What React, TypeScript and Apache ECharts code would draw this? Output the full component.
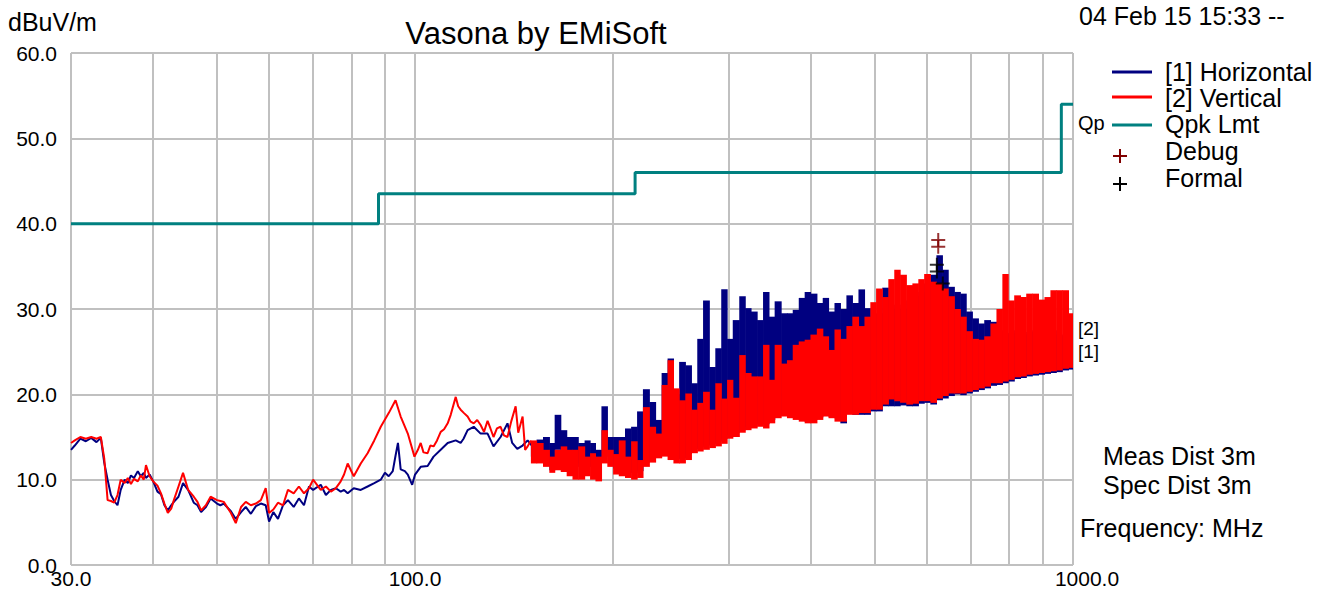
import React, { useEffect, useRef } from "react";
import * as echarts from "echarts";

// ---------- data ----------
const xLabelValues = [30, 100, 1000];
const gridFreqs = [30, 40, 50, 60, 70, 80, 90, 100, 200, 300, 400, 500, 600, 700, 800, 900, 1000];

// Qpk limit (step: value holds until next frequency)
const limitFreq = [30, 88, 216, 960, 1000];
const limitLevel = [40, 43.5, 46, 54, 54];

// [2] Vertical, low band (line part)
const vLowFreq = [30.0, 30.4, 31.0, 31.6, 32.2, 32.8, 33.3, 33.7, 34.1, 34.5, 34.9, 35.3, 35.7, 36.2, 36.6, 37.0, 37.4, 37.9, 38.3, 38.7, 39.0, 39.5, 40.0, 40.6, 41.1, 41.6, 42.1, 42.6, 43.0, 43.7, 44.4, 45.2, 46.1, 46.7, 47.3, 48.1, 48.9, 50.0, 50.6, 51.2, 52.5, 53.4, 54.4, 55.3, 56.3, 57.3, 58.3, 59.3, 60.0, 60.9, 61.9, 63.0, 64.1, 65.4, 66.6, 67.8, 69.0, 70.0, 71.9, 73.2, 74.5, 75.8, 77.1, 78.0, 79.0, 80.7, 82.7, 84.7, 86.7, 88.7, 91.2, 93.4, 95.1, 97.5, 99.8, 101, 102, 103, 104.5, 105.5, 106.7, 108, 109.4, 110.7, 112.1, 113.3, 115.3, 116.3, 117.3, 118.7, 120.2, 121.5, 122.8, 124.3, 125.8, 127.3, 128.9, 130.2, 131.6, 133.2, 134.9, 136.5, 138.2, 140, 142.2, 143.5, 145.7, 147, 148.3, 150];
const vLowLevel = [14.3, 14.6, 15.0, 14.8, 15.0, 14.8, 15.0, 12.5, 7.6, 7.5, 7.3, 8.2, 10.0, 9.6, 10.2, 9.5, 10.1, 9.8, 10.5, 10.0, 11.7, 10.4, 9.8, 9.3, 8.4, 7.2, 6.1, 6.6, 7.6, 9.2, 10.8, 8.8, 8.0, 7.4, 6.4, 7.0, 8.0, 7.6, 7.5, 7.4, 6.1, 4.9, 6.8, 7.4, 7.0, 7.2, 7.6, 9.0, 6.1, 6.5, 7.3, 7.0, 8.8, 8.4, 9.2, 8.4, 9.0, 10.0, 8.8, 9.2, 8.6, 9.0, 9.8, 10.6, 11.9, 10.4, 11.9, 13.1, 14.6, 16.2, 17.8, 19.3, 17.4, 15.4, 12.7, 13.5, 14.3, 13.2, 13.1, 14.0, 13.9, 14.6, 15.6, 15.9, 16.6, 17.6, 19.7, 18.6, 18.2, 17.8, 17.4, 16.8, 16.6, 17.0, 16.4, 15.6, 16.9, 16.0, 15.0, 16.0, 16.2, 15.2, 15.0, 16.8, 18.6, 15.5, 17.4, 13.5, 13.9, 14.6];

// [1] Horizontal, low band (line part)
const hLowFreq = [30.0, 30.4, 31.0, 31.6, 32.2, 32.8, 33.3, 33.7, 34.1, 34.5, 34.9, 35.3, 35.7, 36.2, 36.6, 37.0, 37.4, 37.9, 38.3, 38.7, 39.0, 39.5, 40.0, 40.6, 41.1, 41.6, 42.1, 42.6, 43.0, 43.7, 44.4, 45.2, 46.1, 46.7, 47.3, 48.1, 48.9, 50.0, 50.6, 51.2, 52.5, 53.4, 54.4, 55.3, 56.3, 57.3, 58.3, 59.3, 60.0, 60.9, 61.9, 63.0, 64.1, 65.4, 66.6, 67.8, 69.0, 70.0, 71.9, 73.2, 74.5, 75.8, 77.1, 78.0, 79.0, 80.7, 82.7, 84.7, 86.7, 88.7, 90.0, 91.2, 92.5, 93.4, 94.2, 95.1, 96.5, 97.5, 99.0, 100, 102, 104.5, 106.7, 109.4, 112.1, 115.3, 117.3, 118.5, 120.2, 122.8, 125.8, 128.9, 131.6, 134.9, 138.2, 140.5, 143, 145.7, 148.3, 150.5];
const hLowLevel = [13.5, 14.0, 14.8, 14.5, 14.9, 14.4, 14.9, 12.0, 10.0, 8.2, 7.5, 7.0, 8.8, 10.0, 9.6, 10.5, 10.2, 11.0, 10.4, 10.8, 10.2, 10.6, 9.8, 8.6, 8.3, 7.0, 6.4, 7.0, 7.4, 8.0, 9.6, 8.8, 7.3, 7.0, 6.2, 6.8, 7.8, 7.2, 7.0, 7.2, 6.3, 5.4, 6.2, 6.8, 6.0, 6.9, 7.2, 7.0, 5.1, 6.2, 5.4, 7.0, 7.6, 6.8, 7.8, 7.0, 9.2, 8.8, 9.4, 8.2, 8.8, 9.0, 8.6, 8.8, 8.4, 9.0, 8.8, 9.2, 9.6, 10.0, 10.8, 10.4, 11.0, 12.8, 14.3, 11.2, 11.0, 10.6, 9.4, 10.6, 11.5, 11.6, 12.7, 13.5, 14.3, 14.6, 14.3, 14.8, 15.8, 16.2, 15.4, 15.4, 13.9, 15.0, 16.6, 14.3, 13.6, 14.0, 14.6, 14.0];

// dense sweep region: min / max envelope per frequency bin
const bandFreq = [150, 153, 156.5, 160, 163, 166.5, 170, 173.5, 177, 181, 184.5, 188, 192, 196, 200, 204, 208.5, 213, 217.5, 222, 227, 232, 237, 242, 247, 252, 257.5, 263, 268.5, 274, 280, 286, 292, 298, 304, 311, 317.5, 324, 331, 338, 345, 352, 360, 367.5, 375, 383, 391, 399, 408, 416.5, 425, 434, 443, 452.5, 462, 472, 482, 492, 502, 513, 524, 535, 546, 558, 570, 582, 594, 607, 620, 633, 646, 660, 674, 688, 703, 718, 733, 749, 765, 781, 797, 814, 832, 849, 867, 886, 905, 924, 943, 963, 984, 1000];
const vBandHi = [14.6, 14.3, 13.5, 12.7, 13.5, 13.9, 13.5, 13.5, 13.9, 12.7, 13.1, 12.7, 15.8, 13.5, 13.0, 14.6, 12.7, 14.5, 12.3, 18.5, 16.2, 15.4, 21.1, 24.0, 20.7, 19.3, 20.1, 18.2, 19.0, 20.3, 18.2, 21.3, 19.5, 21.7, 19.6, 24.6, 22.5, 22.1, 22.1, 25.8, 21.7, 25.8, 23.6, 24.0, 25.8, 26.2, 26.4, 27.0, 27.7, 26.8, 25.2, 27.6, 26.5, 28.0, 29.1, 28.0, 29.1, 30.8, 32.4, 31.4, 33.5, 34.6, 34.0, 32.8, 33.0, 33.5, 34.1, 33.2, 33.0, 32.4, 31.5, 30.0, 29.1, 27.4, 26.5, 26.4, 26.8, 28.3, 30.0, 34.1, 31.0, 31.6, 31.4, 31.8, 31.8, 31.1, 31.4, 32.2, 32.2, 32.2, 29.5, 28.5];
const vBandLo = [11.9, 11.9, 11.5, 10.8, 11.1, 10.9, 10.4, 10.0, 10.0, 10.4, 10.0, 9.8, 11.9, 11.5, 10.6, 10.4, 10.2, 10.0, 10.2, 11.5, 12.0, 12.5, 12.7, 12.3, 11.9, 11.9, 12.3, 13.1, 13.3, 13.5, 13.7, 13.9, 14.2, 14.8, 15.0, 15.5, 15.8, 16.0, 16.2, 16.0, 16.6, 17.2, 17.4, 17.2, 17.0, 16.8, 16.6, 16.6, 17.0, 17.4, 17.2, 16.8, 16.8, 17.6, 17.6, 17.8, 17.8, 18.2, 18.2, 18.8, 19.4, 19.2, 19.0, 18.8, 18.9, 19.2, 19.2, 19.0, 19.5, 19.8, 20.1, 20.1, 20.1, 20.3, 20.5, 20.7, 20.9, 21.3, 21.3, 21.5, 21.7, 22.0, 22.1, 22.3, 22.4, 22.5, 22.6, 22.7, 22.8, 23.0, 23.1, 23.3];
const hBandHi = [14.3, 14.7, 15.0, 14.3, 17.6, 15.8, 15.0, 15.0, 14.3, 14.6, 14.3, 13.5, 18.6, 15.0, 15.0, 15.0, 16.0, 16.2, 18.0, 20.6, 19.1, 17.0, 22.5, 24.2, 20.0, 23.8, 23.4, 21.3, 26.5, 31.0, 23.2, 25.4, 32.3, 26.5, 28.7, 31.5, 30.1, 29.7, 28.7, 32.0, 29.1, 30.9, 29.5, 29.5, 29.9, 31.3, 32.0, 31.8, 30.7, 31.3, 29.7, 30.7, 30.0, 31.6, 30.7, 32.3, 30.1, 29.1, 29.5, 32.5, 30.0, 30.5, 30.0, 31.0, 31.5, 32.0, 33.0, 34.0, 36.3, 34.6, 32.6, 32.0, 31.8, 29.7, 28.9, 28.3, 28.7, 28.5, 27.5, 27.0, 27.2, 27.5, 27.0, 27.3, 27.5, 27.0, 27.2, 27.5, 27.0, 26.8, 26.5, 26.0];
const hBandLo = [12.7, 12.7, 11.9, 11.1, 13.5, 13.1, 12.7, 11.9, 11.5, 11.9, 11.5, 11.9, 13.5, 12.7, 11.3, 11.0, 11.2, 10.8, 11.0, 12.0, 12.6, 13.0, 13.0, 12.8, 12.4, 12.5, 13.0, 13.6, 13.8, 14.0, 14.2, 14.5, 14.8, 15.2, 15.5, 15.8, 16.2, 16.5, 16.6, 16.5, 17.0, 17.5, 17.6, 17.5, 17.3, 17.0, 16.8, 17.0, 17.3, 17.5, 17.4, 17.2, 16.6, 18.0, 17.6, 17.6, 17.6, 18.0, 18.0, 18.6, 18.6, 18.6, 18.7, 18.6, 18.6, 18.9, 19.0, 18.8, 19.3, 19.5, 19.8, 20.0, 19.9, 20.1, 20.3, 20.5, 20.7, 21.0, 21.1, 21.3, 21.5, 21.8, 21.9, 22.1, 22.2, 22.3, 22.4, 22.5, 22.6, 22.8, 22.9, 23.0];

const debugFreq = [624, 624];
const debugLevel = [38.1, 37.3];
const formalFreq = [621, 621, 634];
const formalLevel = [35.2, 34.4, 33.0];

// ---------- styling ----------
const FONT = "'Liberation Sans', Arial, Helvetica, sans-serif";
const NAVY = "#000080";
const RED = "#ff0000";
const TEAL = "#008080";
const GRID = "#c0c0c0";
const DEBUG = "#800000";
const PLUS = "path://M6,0h2v6h6v2h-6v6h-2v-6h-6v-2h6z";

function zip(a: number[], b: number[]) {
  return a.map((v, i) => [v, b[i]]);
}

function bandData(freq: number[], lo: number[], hi: number[]) {
  return freq.map((f, i) => [f, lo[i], hi[i], freq[Math.min(i + 1, freq.length - 1)]]);
}

function bandRender(color: string) {
  return (_params: any, api: any) => {
    const f = api.value(0);
    const lo = api.value(1);
    const hi = api.value(2);
    const fn = api.value(3);
    const top = api.coord([f, hi]);
    const bot = api.coord([f, lo]);
    const nx = api.coord([fn, lo])[0];
    const w = Math.max(nx - top[0], 2);
    return {
      type: "rect",
      shape: { x: top[0], y: top[1], width: w + 0.6, height: Math.max(bot[1] - top[1], 2) },
      style: { fill: color },
    };
  };
}

function txt(text: string, x: number, y: number, size: number, align = "left") {
  return {
    type: "text",
    x,
    y,
    silent: true,
    style: { text, fontSize: size, fontFamily: FONT, fill: "#000", align, verticalAlign: "middle" },
  };
}

function hline(x1: number, x2: number, y: number, color: string, w: number) {
  return { type: "line", silent: true, shape: { x1, y1: y, x2, y2: y }, style: { stroke: color, lineWidth: w } };
}

function plusMark(cx: number, cy: number, color: string) {
  return [
    { type: "line", silent: true, shape: { x1: cx - 7, y1: cy, x2: cx + 7, y2: cy }, style: { stroke: color, lineWidth: 2 } },
    { type: "line", silent: true, shape: { x1: cx, y1: cy - 7, x2: cx, y2: cy + 7 }, style: { stroke: color, lineWidth: 2 } },
  ];
}

export default function App() {
  const ref = useRef<HTMLDivElement>(null);

  useEffect(() => {
    if (!ref.current) return;
    const chart = echarts.init(ref.current, undefined, { renderer: "svg" });
    const option: any = {
      animation: false,
      backgroundColor: "#ffffff",
      textStyle: { fontFamily: FONT },
      grid: { left: 71, right: 256, top: 53, bottom: 28 },
      xAxis: {
        type: "log",
        logBase: 10,
        min: 30,
        max: 1000,
        axisLine: { show: false },
        axisTick: { show: false },
        splitLine: { show: false },
        minorSplitLine: { show: false },
        axisLabel: {
          customValues: xLabelValues,
          fontSize: 21,
          color: "#000",
          fontFamily: FONT,
          margin: 3,
          formatter: (v: number) => {
            const r = Math.round(v);
            return r >= 1000 ? "{r|" + r.toFixed(1) + "}" : r.toFixed(1);
          },
          rich: { r: { fontSize: 21, color: "#000", fontFamily: FONT, padding: [0, 0, 0, 28] } },
        },
      },
      yAxis: {
        type: "value",
        min: 0,
        max: 60,
        interval: 10,
        axisLine: { show: false },
        axisTick: { show: false },
        splitLine: { show: true, lineStyle: { color: GRID, width: 2 } },
        axisLabel: {
          fontSize: 21,
          color: "#000",
          fontFamily: FONT,
          margin: 14,
          padding: [0, 0, 8, 0],
          formatter: (v: number) => v.toFixed(1),
        },
      },
      series: [
        {
          name: "grid",
          type: "line",
          data: [],
          silent: true,
          z: 0,
          markLine: {
            silent: true,
            z: 0,
            symbol: "none",
            label: { show: false },
            lineStyle: { color: GRID, width: 2, type: "solid" },
            data: gridFreqs.map((f) => ({ xAxis: f })),
          },
        },
        {
          name: "[1] Horizontal",
          type: "custom",
          z: 2,
          clip: true,
          encode: { x: 0, y: 2 },
          renderItem: bandRender(NAVY),
          data: bandData(bandFreq, hBandLo, hBandHi),
        },
        {
          name: "[1] Horizontal low",
          type: "line",
          z: 3,
          showSymbol: false,
          symbol: "none",
          lineStyle: { color: NAVY, width: 2 },
          data: zip(hLowFreq, hLowLevel),
        },
        {
          name: "[2] Vertical",
          type: "custom",
          z: 4,
          clip: true,
          encode: { x: 0, y: 2 },
          renderItem: bandRender(RED),
          data: bandData(bandFreq, vBandLo, vBandHi),
        },
        {
          name: "[2] Vertical low",
          type: "line",
          z: 5,
          showSymbol: false,
          symbol: "none",
          lineStyle: { color: RED, width: 2 },
          data: zip(vLowFreq, vLowLevel),
        },
        {
          name: "Qpk Lmt",
          type: "line",
          z: 6,
          step: "end",
          showSymbol: false,
          symbol: "none",
          lineStyle: { color: TEAL, width: 3 },
          data: zip(limitFreq, limitLevel),
        },
        {
          name: "Debug",
          type: "scatter",
          z: 7,
          symbol: PLUS,
          symbolSize: 14,
          itemStyle: { color: DEBUG },
          data: zip(debugFreq, debugLevel),
        },
        {
          name: "Formal",
          type: "scatter",
          z: 8,
          symbol: PLUS,
          symbolSize: 14,
          itemStyle: { color: "#000000" },
          data: zip(formalFreq, formalLevel),
        },
      ],
      graphic: [
        txt("dBuV/m", 8, 22, 25),
        txt("Vasona by EMiSoft", 536, 33, 31, "center"),
        txt("04 Feb 15 15:33 --", 1079, 16, 25),
        hline(1112, 1152, 72, NAVY, 3),
        hline(1112, 1152, 97, RED, 3),
        hline(1112, 1152, 125, TEAL, 3),
        ...plusMark(1120, 156, DEBUG),
        ...plusMark(1120, 184, "#000"),
        txt("[1] Horizontal", 1165, 72, 25),
        txt("[2] Vertical", 1165, 98, 25),
        txt("Qpk Lmt", 1165, 124, 25),
        txt("Debug", 1165, 151, 25),
        txt("Formal", 1165, 178, 25),
        txt("Qp", 1078, 123, 20),
        txt("[2]", 1078, 328, 19),
        txt("[1]", 1078, 351, 19),
        txt("Meas Dist 3m", 1103, 456, 25),
        txt("Spec Dist 3m", 1103, 485, 25),
        txt("Frequency: MHz", 1080, 528, 25),
      ],
    };
    chart.setOption(option);
    return () => chart.dispose();
  }, []);

  return (
    <div
      ref={ref}
      style={{ position: "fixed", left: 0, top: 0, width: 1329, height: 593, background: "#fff" }}
    />
  );
}
